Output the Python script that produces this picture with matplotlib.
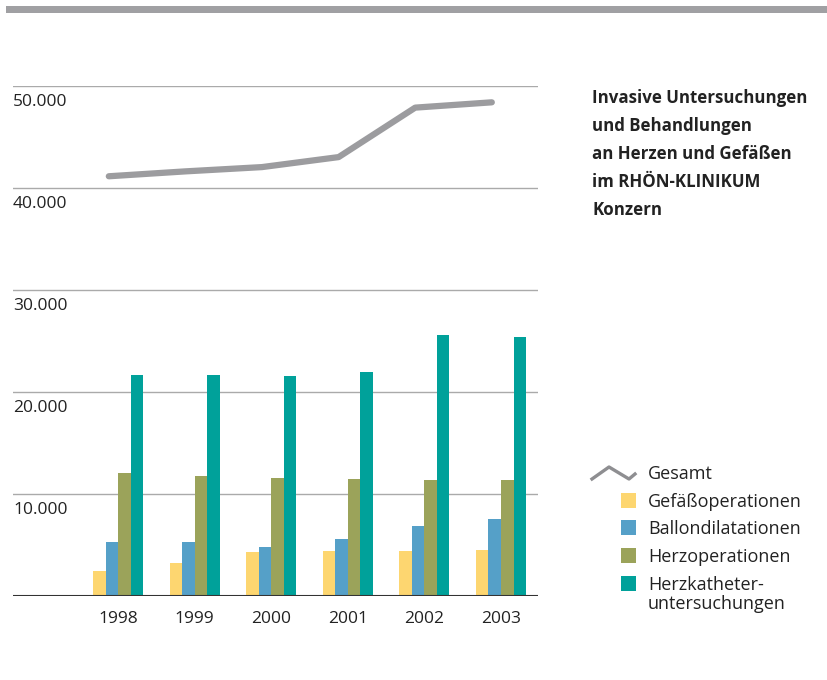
import matplotlib
matplotlib.use("Agg")
import matplotlib.pyplot as plt
from matplotlib.lines import Line2D
from matplotlib.patches import Rectangle
import numpy as np

plt.rcParams['font.family'] = ['Open Sans', 'DejaVu Sans']

years = ["1998", "1999", "2000", "2001", "2002", "2003"]
gesamt = [41150, 41630, 42050, 43030, 47880, 48400]
gefaess = [2480, 3270, 4350, 4450, 4450, 4550]
ballon = [5250, 5250, 4850, 5550, 6830, 7520]
herzop = [12080, 11780, 11580, 11480, 11390, 11390]
herzkath = [21680, 21680, 21580, 21980, 25550, 25350]

series_names = ["Gesamt", "Gefäßoperationen", "Ballondilatationen",
                "Herzoperationen", "Herzkatheter-\nuntersuchungen"]
bar_series = [gefaess, ballon, herzop, herzkath]
bar_colors = ["#FDD670", "#55A0C8", "#9BA35A", "#00A19A"]
line_color = "#9C9C9F"
yticks = [10000, 20000, 30000, 40000, 50000]
ytick_labels = ["10.000", "20.000", "30.000", "40.000", "50.000"]
title = ("Invasive Untersuchungen\nund Behandlungen\nan Herzen und Gefäßen\n"
         "im RHÖN-KLINIKUM\nKonzern")

W, H = 827, 680
fig = plt.figure(figsize=(W / 100, H / 100), dpi=100)

# top gray band
fig.add_artist(Rectangle((6 / W, 1 - 12.5 / H), 1 - 6 / W, 6.5 / H,
                         transform=fig.transFigure, color="#A0A0A3", lw=0))

ax_left, ax_right = 13, 538
y0_px, y50_px = 596, 86
ax = fig.add_axes([ax_left / W, 1 - y0_px / H, (ax_right - ax_left) / W,
                   (y0_px - y50_px) / H])
ax.set_ylim(0, 50000)
x = np.arange(len(years))
ppu = 76.6
ax.set_xlim((ax_left - 118) / ppu, (ax_right - 118) / ppu)

for s in ax.spines.values():
    s.set_visible(False)
ax.set_yticks([])
ax.set_xticks(x)
ax.set_xticklabels(years, fontsize=12.5, color="#222222")
ax.tick_params(axis='x', length=0, pad=11)

for yt, lab in zip(yticks, ytick_labels):
    ax.axhline(yt, color="#AAAAAA", lw=1.0, zorder=0)
    ax.annotate(lab, xy=(0, yt), xycoords=ax.get_yaxis_transform(),
                xytext=(0, -6), textcoords="offset points",
                ha="left", va="top", fontsize=12.5, color="#222222")
ax.axhline(0, color="#333333", lw=1.5, zorder=3)

bw = 12.5 / ppu
offsets = [-1.5, -0.5, 0.5, 1.5]
for vals, col, off in zip(bar_series, bar_colors, offsets):
    ax.bar(x + off * bw, vals, width=bw, color=col, lw=0, zorder=2)

ax.plot(x - 0.12, gesamt, color=line_color, lw=4.5, solid_capstyle="round",
        solid_joinstyle="round", zorder=4)

# title
fig.text(592 / W, 1 - 89 / H, title, ha="left", va="top", fontsize=12.2,
         fontweight="bold", color="#222222", linespacing=1.72)

# legend
lx = 621
# Gesamt zigzag
zx = [592, 609, 629, 635]
zy = [479, 467, 479, 474]
fig.add_artist(Line2D([v / W for v in zx], [1 - v / H for v in zy],
                      transform=fig.transFigure, color="#8E8E91", lw=2.4))
fig.text(648 / W, 1 - 474 / H, series_names[0], ha="left", va="center",
         fontsize=13, color="#222222")
row_y = [500, 527, 555, 583]
for name, col, ry in zip(series_names[1:], bar_colors, row_y):
    fig.add_artist(Rectangle((lx / W, 1 - (ry + 7.5) / H), 15 / W, 15 / H,
                             transform=fig.transFigure, color=col, lw=0))
    fig.text(648 / W, 1 - (ry - 7) / H, name, ha="left", va="top",
             fontsize=13, color="#222222", linespacing=1.1)

fig.savefig("out.png", dpi=100)
